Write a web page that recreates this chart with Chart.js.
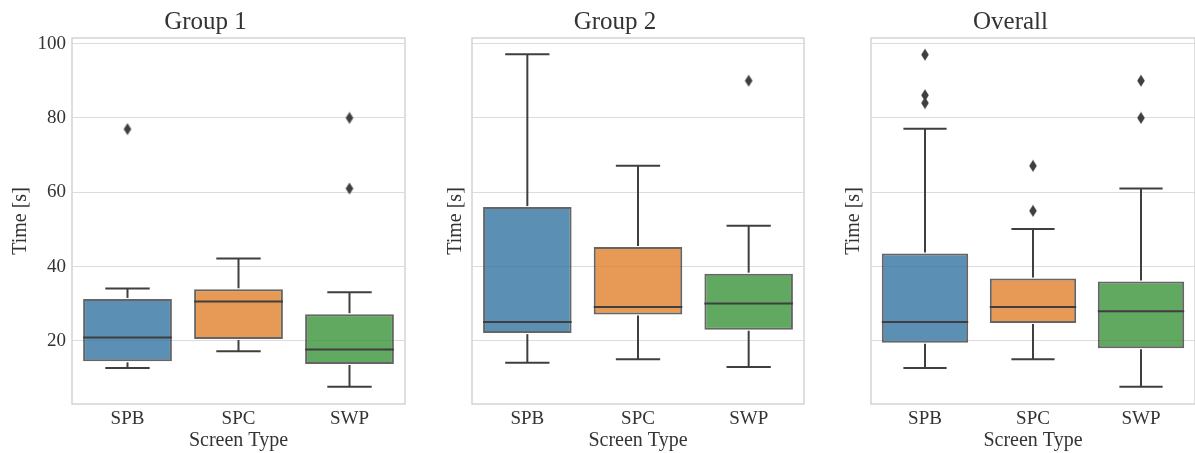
<!DOCTYPE html>
<html>
<head>
<meta charset="utf-8">
<script src="https://cdn.jsdelivr.net/npm/chart.js@4"></script>
<style>
  html, body { margin: 0; padding: 0; background: #fff; }
  #wrap { position: relative; width: 1195px; height: 453px; overflow: hidden; }
  .panel { position: absolute; top: 0; height: 453px; }
</style>
</head>
<body>
<div id="wrap">
  <div class="panel" style="left:0"><canvas id="g1"></canvas></div>
  <div class="panel" style="left:420px"><canvas id="g2"></canvas></div>
  <div class="panel" style="left:820px"><canvas id="g3"></canvas></div>
</div>
<script>
// box plot values
const categories = ['SPB', 'SPC', 'SWP'];
const yTicks = [20, 40, 60, 80, 100];

const g1Low  = [12.7, 17.2, 7.7];
const g1Q1   = [14.5, 20.5, 13.8];
const g1Med  = [20.9, 30.6, 17.7];
const g1Q3   = [31.3, 33.9, 27.2];
const g1High = [34.1, 42.2, 33.1];
const g1Out  = [[77.0], [], [80.0, 61.0]];

const g2Low  = [14.1, 15.1, 13.0];
const g2Q1   = [22.1, 27.1, 23.0];
const g2Med  = [25.1, 29.1, 30.1];
const g2Q3   = [56.0, 45.3, 38.1];
const g2High = [97.1, 67.1, 51.0];
const g2Out  = [[], [], [90.0]];

const allLow  = [12.7, 15.1, 7.7];
const allQ1   = [19.5, 24.8, 18.0];
const allMed  = [25.1, 29.1, 28.0];
const allQ3   = [43.5, 36.8, 36.0];
const allHigh = [77.1, 50.1, 61.0];
const allOut  = [[97.0, 86.1, 84.0], [67.1, 55.0], [90.0, 80.0]];

const boxColors = ['rgba(50,116,161,0.8)', 'rgba(225,129,44,0.8)', 'rgba(58,146,58,0.8)'];
const lineColor = '#3f3f3f';
const FONT = "'Liberation Serif', 'Times New Roman', serif";

// thin diamond marker like matplotlib 'd'
function diamond() {
    const c = document.createElement('canvas');
    c.width = 10; c.height = 13;
    const g = c.getContext('2d');
    g.fillStyle = lineColor;
    g.beginPath();
    g.moveTo(5, 0.5); g.lineTo(8.8, 6.5); g.lineTo(5, 12.5); g.lineTo(1.2, 6.5);
    g.closePath(); g.fill();
    return c;
}
const marker = diamond();

const boxPlugin = {
    id: 'boxParts',
    beforeDatasetsDraw(chart) {
        const a = chart.chartArea, ctx = chart.ctx;
        ctx.save();
        ctx.strokeStyle = '#d4d4d4';
        ctx.lineWidth = 1.5;
        ctx.strokeRect(a.left, a.top, a.right - a.left, a.bottom - a.top);
        ctx.restore();
    },
    afterDatasetsDraw(chart) {
        const st = chart.options.plugins.boxParts;
        const ctx = chart.ctx;
        const x = chart.scales.x, y = chart.scales.y;
        const bars = chart.getDatasetMeta(0).data;
        ctx.save();
        ctx.strokeStyle = lineColor;
        ctx.lineWidth = 2;
        ctx.lineCap = 'butt';
        categories.forEach((c, i) => {
            const cx = x.getPixelForValue(i);
            const half = bars[i].width / 2;
            const cap = half / 2;
            const line = (x1, y1, x2, y2) => {
                ctx.beginPath(); ctx.moveTo(x1, y1); ctx.lineTo(x2, y2); ctx.stroke();
            };
            const pLow = y.getPixelForValue(st.low[i]);
            const pHigh = y.getPixelForValue(st.high[i]);
            line(cx, y.getPixelForValue(st.q1[i]) + 1, cx, pLow);
            line(cx, y.getPixelForValue(st.q3[i]) - 1, cx, pHigh);
            line(cx - cap, pLow, cx + cap, pLow);
            line(cx - cap, pHigh, cx + cap, pHigh);
            const pm = y.getPixelForValue(st.med[i]);
            line(cx - half, pm, cx + half, pm);
        });
        ctx.restore();
    }
};

function makeChart(id, title, low, q1, med, q3, high, out, opts) {
    const outPts = [];
    out.forEach((vals, i) => vals.forEach(v => outPts.push({ x: categories[i], y: v })));
    new Chart(document.getElementById(id), {
        type: 'bar',
        data: {
            labels: categories,
            datasets: [{
                data: q1.map((v, i) => [v, q3[i]]),
                backgroundColor: boxColors,
                borderColor: 'rgba(63,63,63,0.8)',
                borderWidth: 2,
                borderSkipped: false,
                barPercentage: 0.8,
                categoryPercentage: 1.0
            }, {
                type: 'scatter',
                data: outPts,
                pointStyle: marker,
                pointRadius: 5
            }]
        },
        options: {
            responsive: false,
            animation: false,
            layout: { padding: 0 },
            plugins: {
                legend: { display: false },
                tooltip: { enabled: false },
                title: {
                    display: true, text: title, color: '#333',
                    font: { family: FONT, size: 25, weight: 'normal' },
                    padding: { top: 7, bottom: 1 }
                },
                boxParts: { low, q1, med, q3, high }
            },
            scales: {
                x: {
                    type: 'category',
                    grid: { display: false, drawTicks: false },
                    border: { display: false },
                    ticks: { color: '#333', padding: 4, font: { family: FONT, size: 19 } },
                    title: {
                        display: true, text: 'Screen Type', color: '#333',
                        font: { family: FONT, size: 20 }, padding: { top: 0, bottom: 0 }
                    },
                    afterFit(s) { s.height = 49; }
                },
                y: {
                    min: 3.03, max: 101.5,
                    afterBuildTicks(s) { s.ticks = yTicks.map(v => ({ value: v })); },
                    grid: { color: '#dcdcdc', lineWidth: 1, drawTicks: false },
                    border: { display: false },
                    ticks: {
                        display: opts.showTicks, color: '#333', padding: 6,
                        font: { family: FONT, size: 19 }
                    },
                    title: {
                        display: true, text: 'Time [s]', color: '#333',
                        font: { family: FONT, size: 20 }, padding: { top: opts.titlePad, bottom: 0 }
                    },
                    afterFit(s) { s.width = opts.axisWidth; }
                }
            }
        },
        plugins: [boxPlugin]
    });
}

function setSize(id, w) {
    const c = document.getElementById(id);
    c.width = w; c.height = 453;
    c.style.width = w + 'px'; c.style.height = '453px';
}
setSize('g1', 411); setSize('g2', 390); setSize('g3', 381);

makeChart('g1', 'Group 1', g1Low, g1Q1, g1Med, g1Q3, g1High, g1Out,
    { showTicks: true, axisWidth: 72, titlePad: 9 });
makeChart('g2', 'Group 2', g2Low, g2Q1, g2Med, g2Q3, g2High, g2Out,
    { showTicks: false, axisWidth: 52, titlePad: 24 });
makeChart('g3', 'Overall', allLow, allQ1, allMed, allQ3, allHigh, allOut,
    { showTicks: false, axisWidth: 51, titlePad: 22 });
</script>
</body>
</html>
